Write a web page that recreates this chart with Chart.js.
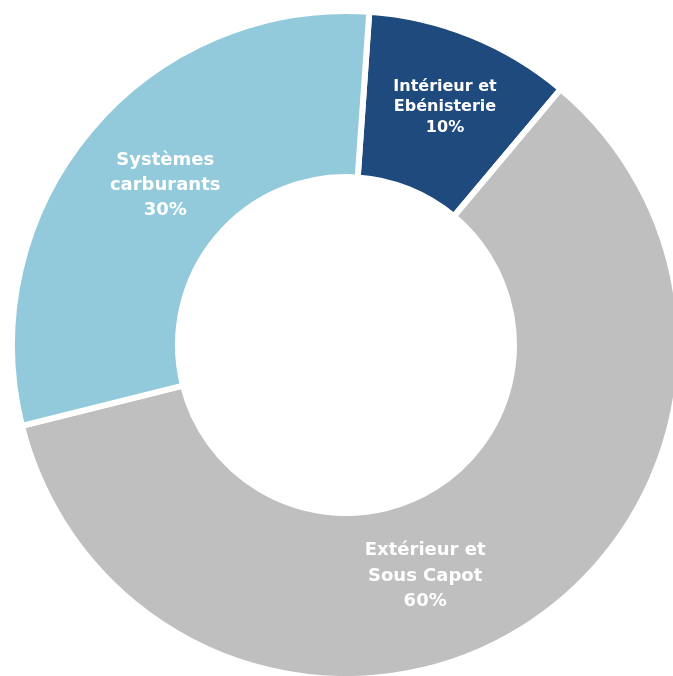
<!DOCTYPE html>
<html>
<head>
<meta charset="utf-8">
<script src="https://cdn.jsdelivr.net/npm/chart.js@4/dist/chart.umd.min.js"></script>
<style>
html,body{margin:0;padding:0;background:#fff;overflow:hidden;}
#wrap{width:673px;height:676px;}
</style>
</head>
<body>
<div id="wrap"><canvas id="c" width="673" height="676"></canvas></div>
<script>
// Data
const categories = ['Intérieur et Ebénisterie', 'Extérieur et Sous Capot', 'Systèmes carburants'];
const labelLines = [['Intérieur et', 'Ebénisterie'], ['Extérieur et', 'Sous Capot'], ['Systèmes', 'carburants']];
const shares = [10, 60, 30];

// Styling
const sliceColors = ['#1F4A7E', '#BFBFBF', '#93CADB'];
const labelPlacement = [
  {da: 0.6, rf: 0.54, size: 16, lh: 20.5},
  {da: 13.1, rf: 0.46, size: 18, lh: 25.5},
  {da: 1.4, rf: 0.44, size: 18, lh: 25}
];

const sliceLabels = {
  id: 'sliceLabels',
  afterDatasetsDraw(chart) {
    const ctx = chart.ctx;
    const meta = chart.getDatasetMeta(0);
    meta.data.forEach((arc, i) => {
      const p = arc.getProps(['x','y','startAngle','endAngle','innerRadius','outerRadius'], true);
      const pl = labelPlacement[i];
      const a = (p.startAngle + p.endAngle) / 2 + pl.da * Math.PI / 180;
      const r = p.innerRadius + pl.rf * (p.outerRadius - p.innerRadius);
      const cx = p.x + Math.cos(a) * r;
      const cy = p.y + Math.sin(a) * r;
      const lines = labelLines[i].concat([shares[i] + '%']);
      ctx.save();
      ctx.fillStyle = '#FFFFFF';
      ctx.font = 'bold ' + pl.size + 'px "DejaVu Sans", sans-serif';
      ctx.textAlign = 'center';
      ctx.textBaseline = 'middle';
      lines.forEach((t, k) => {
        ctx.fillText(t, cx, cy + (k - (lines.length - 1) / 2) * pl.lh);
      });
      ctx.restore();
    });
  }
};

new Chart(document.getElementById('c'), {
  type: 'doughnut',
  data: {
    labels: categories,
    datasets: [{
      data: shares,
      backgroundColor: sliceColors,
      borderColor: '#FFFFFF',
      borderWidth: 6,
      hoverOffset: 0,
      clip: false
    }]
  },
  options: {
    responsive: false,
    animation: false,
    devicePixelRatio: 1,
    rotation: 4,
    radius: 334,
    cutout: '50.3%',
    layout: {padding: {left: 19, top: 14, right: 0, bottom: 0}},
    plugins: {legend: {display: false}, tooltip: {enabled: false}}
  },
  plugins: [sliceLabels]
});
</script>
</body>
</html>
